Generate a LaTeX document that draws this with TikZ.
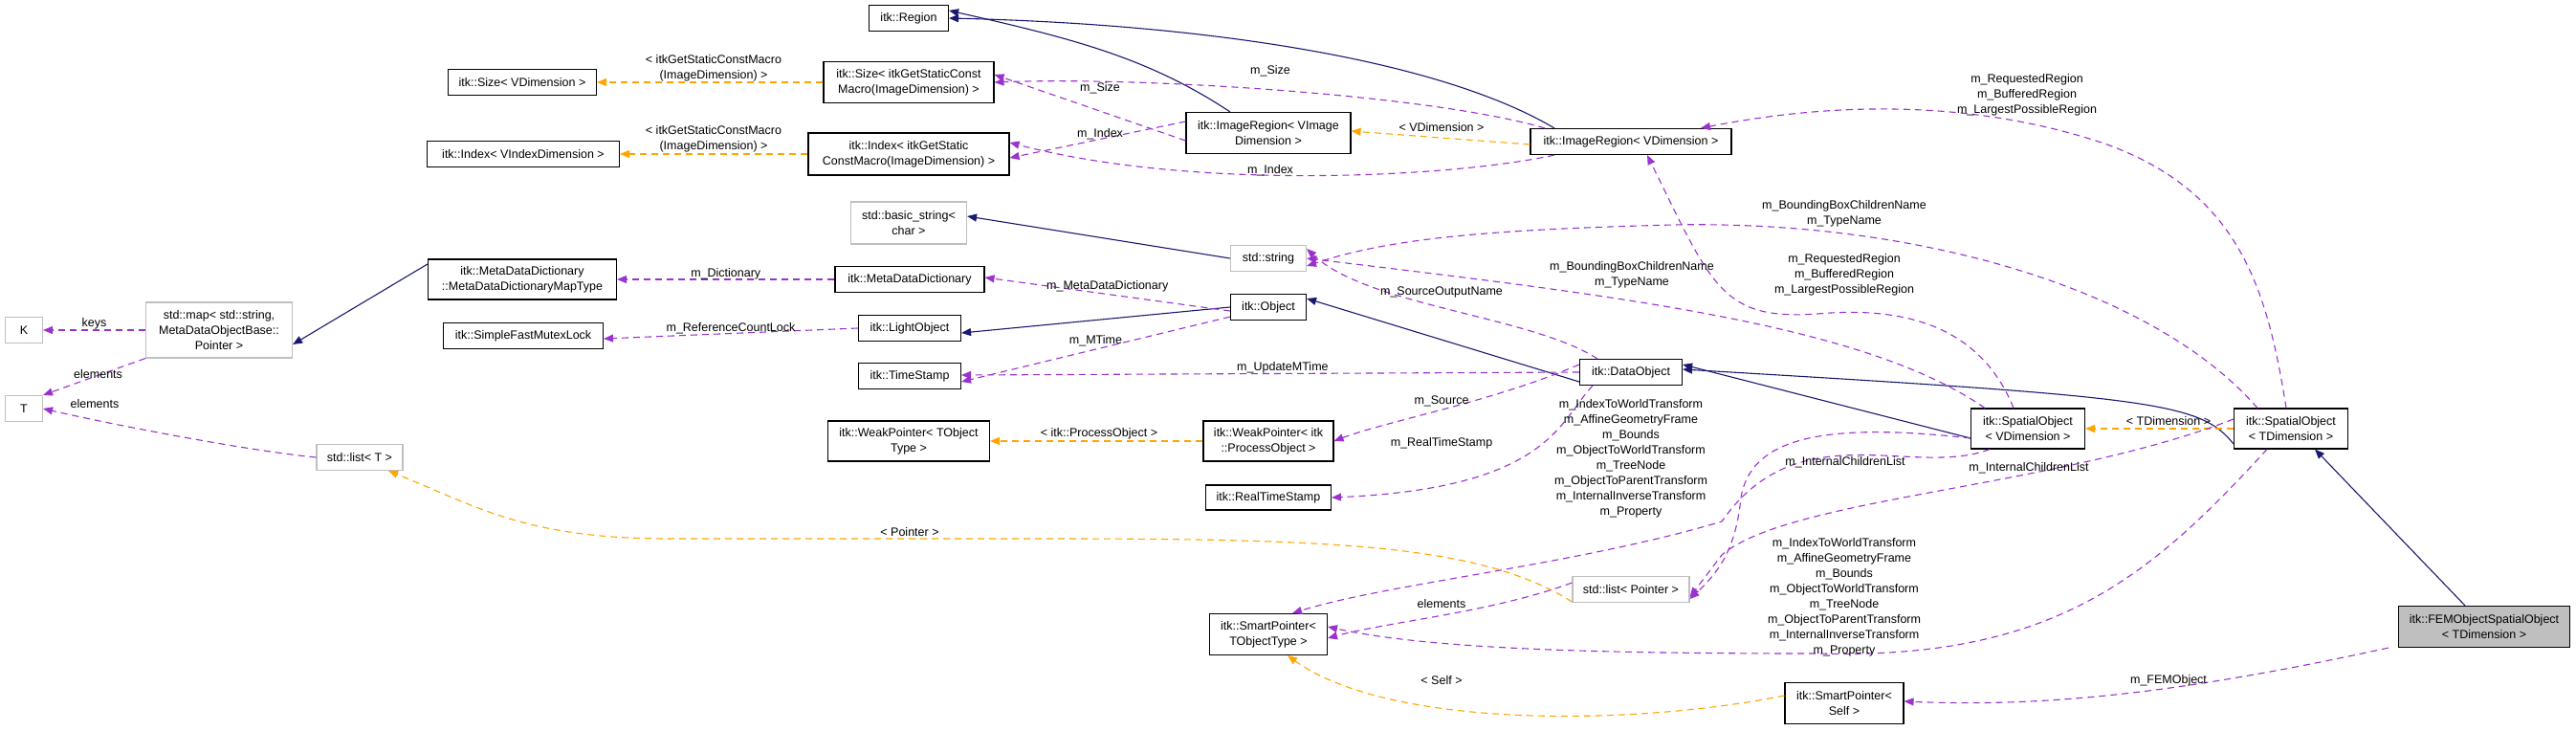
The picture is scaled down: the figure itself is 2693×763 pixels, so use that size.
\documentclass[tikz,border=0pt]{standalone}
\usepackage{fontspec}
\setmainfont{Liberation Sans}
\usetikzlibrary{arrows.meta}
\definecolor{inh}{HTML}{191970}
\definecolor{use}{HTML}{9A32CD}
\definecolor{tpl}{HTML}{FFA500}
\definecolor{gb}{HTML}{BFBFBF}
\begin{document}
\begin{tikzpicture}[x=1pt,y=-1pt,
  every node/.style={font=\fontsize{12.5}{16}\selectfont},
  box/.style={draw=black,line width=1.1pt,inner sep=0pt,align=center,minimum height=27pt},
  gbox/.style={box,draw=gb},
  lbl/.style={align=center,inner sep=0pt},
  tip/.style={-{Triangle[length=10pt,width=8pt]}},
  ih/.style={tip,draw=inh,line width=1.1pt},
  us/.style={tip,draw=use,line width=1.1pt,dash pattern=on 7pt off 5pt},
  tp/.style={tip,draw=tpl,line width=1.1pt,dash pattern=on 7pt off 5pt}]
\useasboundingbox (0,0) rectangle (2693,763);
% nodes
\node[box,minimum width=83pt] (reg) at (950,19) {itk::Region};
\node[box,minimum width=155pt] (sizev) at (546,86) {itk::Size< VDimension >};
\node[box,minimum width=201pt] (idxv) at (547,161) {itk::Index< VIndexDimension >};
\node[box,minimum width=178pt,minimum height=43pt] (sizeg) at (950,86) {itk::Size< itkGetStaticConst\\Macro(ImageDimension) >};
\node[box,minimum width=210pt,minimum height=44pt] (idxg) at (950,161) {itk::Index< itkGetStatic\\ConstMacro(ImageDimension) >};
\node[box,minimum width=172pt,minimum height=43pt] (irvi) at (1326,139) {itk::ImageRegion< VImage\\Dimension >};
\node[box,minimum width=210pt] (irvd) at (1705,148) {itk::ImageRegion< VDimension >};
\node[gbox,minimum width=121pt,minimum height=44pt] (bstr) at (950,233) {std::basic\_string<\\char >};
\node[gbox,minimum width=79pt] (str) at (1326,270) {std::string};
\node[box,minimum width=197pt,minimum height=42pt] (mapt) at (546,292) {itk::MetaDataDictionary\\::MetaDataDictionaryMapType};
\node[gbox,minimum width=153pt,minimum height=58pt] (smap) at (229,345) {std::map< std::string,\\MetaDataObjectBase::\\Pointer >};
\node[gbox,minimum width=39pt] (K) at (25,345) {K};
\node[gbox,minimum width=39pt] (T) at (25,427) {T};
\node[box,minimum width=167pt] (mutex) at (547,351) {itk::SimpleFastMutexLock};
\node[box,minimum width=156pt] (mdd) at (951,292) {itk::MetaDataDictionary};
\node[box,minimum width=79pt] (obj) at (1326,321) {itk::Object};
\node[box,minimum width=107pt] (lobj) at (951,343) {itk::LightObject};
\node[box,minimum width=107pt] (ts) at (951,393) {itk::TimeStamp};
\node[box,minimum width=107pt] (dobj) at (1705,389) {itk::DataObject};
\node[box,minimum width=169pt,minimum height=42pt] (wpt) at (950,461) {itk::WeakPointer< TObject\\Type >};
\node[box,minimum width=136pt,minimum height=42pt] (wpp) at (1326,461) {itk::WeakPointer< itk\\::ProcessObject >};
\node[box,minimum width=131pt,minimum height=26pt] (rts) at (1326,520) {itk::RealTimeStamp};
\node[gbox,minimum width=90pt] (listt) at (376,478) {std::list< T >};
\node[gbox,minimum width=122pt] (listp) at (1705,616) {std::list< Pointer >};
\node[box,minimum width=123pt,minimum height=43pt] (spt) at (1326,663) {itk::SmartPointer<\\TObjectType >};
\node[box,minimum width=119pt,minimum height=42pt] (sov) at (2120,448) {itk::SpatialObject\\< VDimension >};
\node[box,minimum width=119pt,minimum height=42pt] (sot) at (2395,448) {itk::SpatialObject\\< TDimension >};
\node[box,fill=gb,minimum width=179pt,minimum height=43pt] (fem) at (2597,655) {itk::FEMObjectSpatialObject\\< TDimension >};
\node[box,minimum width=124pt,minimum height=43pt] (sps) at (1928,735) {itk::SmartPointer<\\Self >};
% inheritance
\draw[ih] ([xshift=-40pt]irvi.north) .. controls (1200,60) and (1120,40) .. ([yshift=8pt]reg.east);
\draw[ih] ([xshift=-80pt]irvd.north) .. controls (1500,60) and (1250,25) .. ([yshift=0pt]reg.east);
\draw[ih] (str.west) -- ([yshift=7pt]bstr.east);
\draw[ih] (obj.west) -- ([yshift=-5pt]lobj.east);
\draw[ih] ([yshift=-10pt]dobj.west) -- ([yshift=9pt]obj.east);
\draw[ih] ([yshift=-10pt]sov.west) -- ([yshift=8pt]dobj.east);
\draw[ih] ([yshift=-16pt]sot.west) .. controls (2300,420) and (2250,415) .. ([yshift=3pt]dobj.east);
\draw[ih] ([xshift=-20pt]fem.north) -- ([xshift=25pt]sot.south);
\draw[ih] ([yshift=16pt]mapt.west) -- ([yshift=-15pt]smap.east);
% templates
\draw[tp] (sizeg.west) -- (sizev.east);
\draw[tp] (idxg.west) -- (idxv.east);
\draw[tp] ([yshift=-3pt]irvd.west) -- ([yshift=2pt]irvi.east);
\draw[tp] (wpp.west) -- (wpt.east);
\draw[tp] (sot.west) -- (sov.east);
\draw[tp] ([yshift=-13pt]listp.west) .. controls (1550,570) and (1400,563) .. (1100,563) -- (700,563) .. controls (550,563) and (500,530) .. ([xshift=30pt]listt.south);
\draw[tp] ([yshift=8pt]sps.west) .. controls (1700,760) and (1450,760) .. ([xshift=20pt]spt.south);
% usage
\draw[us] ([yshift=-8pt]irvi.west) -- ([yshift=8pt]sizeg.east);
\node[lbl] at (1150,92) {m\_Size};
\draw[us] ([xshift=-90pt]irvd.north) .. controls (1500,100) and (1200,80) .. (sizeg.east);
\node[lbl] at (1328,74) {m\_Size};
\draw[us] ([yshift=12pt]irvi.west) -- ([yshift=-4pt]idxg.east);
\node[lbl] at (1150,140) {m\_Index};
\draw[us] ([xshift=-80pt]irvd.south) .. controls (1520,185) and (1250,200) .. ([yshift=12pt]idxg.east);
\node[lbl] at (1328,178) {m\_Index};
\node[lbl] at (746,71) {< itkGetStaticConstMacro\\(ImageDimension) >};
\node[lbl] at (746,145) {< itkGetStaticConstMacro\\(ImageDimension) >};
\node[lbl] at (1507,133) {< VDimension >};
\draw[us] (mdd.west) -- node[lbl,above,yshift=-1pt]{m\_Dictionary} (mapt.east);
\draw[us] (smap.west) -- node[lbl,above]{keys} (K.east);
\draw[us] (smap.south west) -- node[lbl,above left,xshift=30pt,yshift=-2pt]{elements} (T.north east);
\draw[us] (listt.west) .. controls (250,470) and (100,440) .. (T.east);
\node[lbl] at (99,422) {elements};
\draw[us] (lobj.west) -- node[lbl,above,yshift=-1pt]{m\_ReferenceCountLock} ([yshift=-3pt]mutex.east);
\draw[us] ([yshift=-4pt]obj.west) -- node[lbl,above,yshift=2pt]{m\_MetaDataDictionary} ([yshift=2pt]mdd.east);
\draw[us] ([yshift=4pt]obj.south west) -- node[lbl,above,yshift=2pt]{m\_MTime} ([yshift=-6pt]ts.east);
\draw[us] (dobj.west) -- node[lbl,above,pos=0.48]{m\_UpdateMTime} ([yshift=1pt]ts.east);
\draw[us] ([xshift=-35pt]dobj.north) .. controls (1600,330) and (1430,320) .. ([yshift=10pt]str.east);
\node[lbl] at (1507,305) {m\_SourceOutputName};
\draw[us] ([yshift=8pt]dobj.west) .. controls (1560,420) and (1450,440) .. (wpp.east);
\node[lbl] at (1507,419) {m\_Source};
\draw[us] ([xshift=-40pt]dobj.south) .. controls (1630,440) and (1620,510) .. (rts.east);
\node[lbl] at (1507,463) {m\_RealTimeStamp};
\draw[us] ([yshift=7pt]listp.west) .. controls (1560,640) and (1450,650) .. ([yshift=-4pt]spt.east);
\node[lbl] at (1507,631) {elements};
\draw[us] ([xshift=-40pt]sov.south) .. controls (2000,500) and (1880,430) .. (1800,545) .. controls (1650,590) and (1450,610) .. ([xshift=25pt]spt.north);
\node[lbl] at (1705,479) {m\_IndexToWorldTransform\\m\_AffineGeometryFrame\\m\_Bounds\\m\_ObjectToWorldTransform\\m\_TreeNode\\m\_ObjectToParentTransform\\m\_InternalInverseTransform\\m\_Property};
\draw[us] ([yshift=-10pt]sov.west) .. controls (1900,440) and (1830,460) .. (1820,520) .. controls (1815,570) and (1800,595) .. ([yshift=-10pt]listp.east);
\node[lbl] at (1929,483) {m\_InternalChildrenList};
\draw[us] ([yshift=10pt]sot.west) .. controls (2150,510) and (1870,520) .. (1800,580) -- ([yshift=-8pt]listp.east);
\node[lbl] at (2121,489) {m\_InternalChildrenList};
\draw[us] ([xshift=-25pt]sot.south) .. controls (2250,600) and (2150,690) .. (1900,683) .. controls (1700,683) and (1500,680) .. ([yshift=8pt]spt.east);
\node[lbl] at (1928,624) {m\_IndexToWorldTransform\\m\_AffineGeometryFrame\\m\_Bounds\\m\_ObjectToWorldTransform\\m\_TreeNode\\m\_ObjectToParentTransform\\m\_InternalInverseTransform\\m\_Property};
\draw[us] ([xshift=-10pt]fem.south west) .. controls (2300,720) and (2150,740) .. ([yshift=2pt]sps.east);
\node[lbl] at (2267,711) {m\_FEMObject};
\draw[us] ([xshift=-15pt]sov.north) .. controls (2070,340) and (1990,320) .. (1900,328) .. controls (1800,335) and (1790,300) .. ([xshift=17pt]irvd.south);
\node[lbl] at (1928,287) {m\_RequestedRegion\\m\_BufferedRegion\\m\_LargestPossibleRegion};
\draw[us] ([xshift=-5pt]sot.north) .. controls (2370,300) and (2340,200) .. (2200,150) .. controls (2050,100) and (1900,110) .. ([xshift=73pt]irvd.north);
\node[lbl] at (2119,99) {m\_RequestedRegion\\m\_BufferedRegion\\m\_LargestPossibleRegion};
\draw[us] ([xshift=-45pt]sov.north) .. controls (1950,340) and (1700,310) .. ([yshift=0pt]str.east);
\node[lbl] at (1706,287) {m\_BoundingBoxChildrenName\\m\_TypeName};
\draw[us] ([xshift=-35pt]sot.north) .. controls (2250,300) and (2000,230) .. (1750,235) .. controls (1550,240) and (1450,250) .. ([yshift=-8pt]str.east);
\node[lbl] at (1928,223) {m\_BoundingBoxChildrenName\\m\_TypeName};
\node[lbl] at (1149,453) {< itk::ProcessObject >};
\node[lbl] at (951,556) {< Pointer >};
\node[lbl] at (1507,711) {< Self >};
\node[lbl] at (2267,440) {< TDimension >};
\end{tikzpicture}
\end{document}
